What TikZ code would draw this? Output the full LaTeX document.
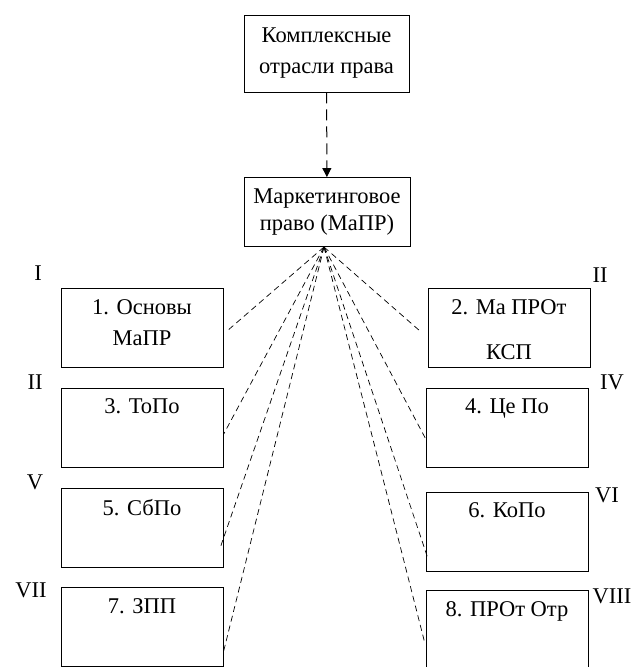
\documentclass[tikz,border=0pt]{standalone}
\usepackage{fontspec}
\setmainfont{Liberation Serif}
\usetikzlibrary{positioning,arrows.meta}

\tikzset{
	box/.style={draw,line width=0.9pt,inner sep=0pt,minimum width=162pt,minimum height=79pt},
	txt/.style={inner sep=2pt,align=center},
	num/.style={inner sep=0pt},
	link/.style={dashed,dash pattern=on 6pt off 4pt,line width=0.7pt}
}

\begin{document}
\begin{tikzpicture}[x=1pt,y=-1pt,font=\fontsize{22.5}{31}\selectfont]
	\useasboundingbox (0,0) rectangle (630,667);

	\node[box,minimum width=165pt,minimum height=77pt,align=center] (top) at (326.5,53.5) {Комплексные\\отрасли права};
	\node[box,minimum width=166pt,minimum height=69pt,align=center] (mid) at (327,212) {Маркетинговое\\[-4pt]право (МаПР)};
	\draw[dashed,dash pattern=on 11pt off 6pt,line width=1pt,-{Triangle[width=9pt,length=9pt]}] (top) -- (mid);

	% left column
	\node[box] (b1) at (142,327.5) {};
	\node[box] (b3) at (142,427.5) {};
	\node[box] (b5) at (142,528) {};
	\node[box] (b7) at (142,627) {};
	% right column
	\node[box] (b2) at (509,327.5) {};
	\node[box] (b4) at (507,427.5) {};
	\node[box] (b6) at (507,531.5) {};
	\node[box] (b8) at (507,630) {};

	\node[txt,below=10pt of b1.north] {1. Основы\\МаПР};
	\node[txt,below=10pt of b2.north] {2. Ма ПРОт\\[14pt]КСП};
	\node[txt,below=9pt of b3.north] {3. ТоПо};
	\node[txt,below=9pt of b4.north] {4. Це По};
	\node[txt,below=9pt of b5.north] {5. СбПо};
	\node[txt,below=9pt of b6.north] {6. КоПо};
	\node[txt,below=9pt of b7.north] {7. ЗПП};
	\node[txt,below=9pt of b8.north] {8. ПРОт Отр};

	\node[num] (r1) at (38,273) {I};
	\node[num] (r3) at (35,382) {II};
	\node[num] (r5) at (35,482) {V};
	\node[num] (r7) at (31,590) {VII};
	\node[num] (r2) at (600,275) {II};
	\node[num] (r4) at (612,382) {IV};
	\node[num] (r6) at (607,495) {VI};
	\node[num] (r8) at (612,596) {VIII};

	\coordinate (fan) at (324,247);
	\foreach \b/\dx/\dy in {b1.east/3/-4,b3.east/0/-7,b5.east/-3/-19,b7.east/0/-25,
		b2.west/-7/-4,b4.west/1/-13,b6.west/2/-26,b8.west/-1/-12}
		\draw[link] (fan) -- ([xshift=\dx pt,yshift=\dy pt]\b);
\end{tikzpicture}
\end{document}
